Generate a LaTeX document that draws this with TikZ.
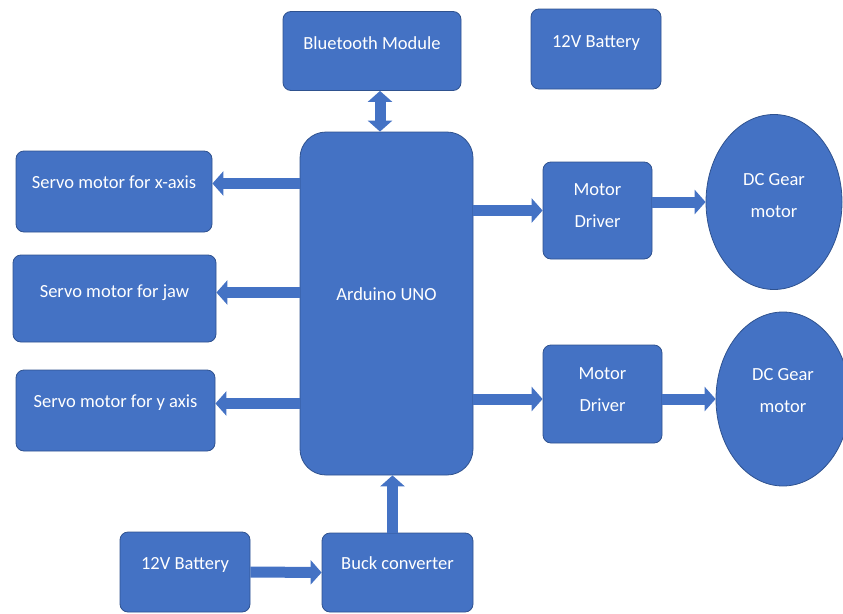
\documentclass[tikz,border=0pt]{standalone}
\usepackage{fontspec}
\setmainfont{Carlito}
\usetikzlibrary{arrows.meta,shapes.geometric}
\definecolor{officeblue}{HTML}{4472C4}
\definecolor{edgeblue}{HTML}{2F528F}

\tikzset{
  blok/.style={draw=edgeblue, line width=0.8pt, fill=officeblue, rounded corners=8pt,
    text=white, font=\fontsize{18.5}{32}\selectfont, align=center, inner sep=2pt},
  motorcirc/.style={ellipse, draw=edgeblue, line width=0.8pt, fill=officeblue,
    text=white, font=\fontsize{18.5}{32}\selectfont, align=center,
    minimum width=136pt, minimum height=175pt},
  fatarrow/.style={draw=officeblue, line width=11pt,
    -{Triangle[width=24pt,length=11pt]}},
  fatboth/.style={draw=officeblue, line width=11pt,
    {Triangle[width=24pt,length=11pt]}-{Triangle[width=24pt,length=11pt]}}
}

\begin{document}
\begin{tikzpicture}[x=1pt,y=-1pt]
  \useasboundingbox (0,0) rectangle (843,613);

  % Bausteine
  \node[blok, minimum width=178pt, minimum height=79pt, text depth=16pt] (bt) at (372,51) {Bluetooth Module};
  \node[blok, minimum width=130pt, minimum height=80pt, text depth=16pt] (batA) at (596,49) {12V Battery};
  \node[blok, rounded corners=26pt, minimum width=173pt, minimum height=343pt, text depth=19pt] (ard) at (386.5,303.5) {Arduino UNO};

  \node[blok, minimum width=196pt, minimum height=81pt, text depth=18pt] (sx) at (114,191.5) {Servo motor for x-axis};
  \node[blok, minimum width=203pt, minimum height=87pt, text depth=14pt] (sj) at (114.5,298.5) {Servo motor for jaw};
  \node[blok, minimum width=199pt, minimum height=81pt, text depth=18pt] (sy) at (115.5,410.5) {Servo motor for y axis};

  \node[blok, minimum width=109pt, minimum height=97pt, text depth=10pt] (mdA) at (597.5,210.5) {Motor\\Driver};
  \node[blok, minimum width=119pt, minimum height=98pt, text depth=8pt] (mdB) at (602.5,394) {Motor\\Driver};

  \node[motorcirc, text depth=14pt] (dcA) at (774,202) {DC Gear\\motor};
  \node[motorcirc, minimum width=134pt, minimum height=174pt, text depth=18pt] (dcB) at (783,399) {DC Gear\\motor};

  \node[blok, minimum width=130pt, minimum height=80pt, text depth=18pt] (batB) at (185,572) {12V Battery};
  \node[blok, minimum width=151pt, minimum height=79pt, text depth=18pt] (buck) at (397.5,572.5) {Buck converter};

  % Verbindungen
  \draw[fatboth] ([xshift=8pt]bt.south) -- ([xshift=8pt]bt.south |- ard.north);
  \draw[fatarrow] ([yshift=8pt]ard.west |- sx.east) -- ([yshift=8pt]sx.east);
  \draw[fatarrow] ([yshift=6pt]ard.west |- sj.east) -- ([yshift=6pt]sj.east);
  \draw[fatarrow] ([yshift=7pt]ard.west |- sy.east) -- ([yshift=7pt]sy.east);
  \draw[fatarrow] (ard.east |- mdA.west) -- (mdA.west);
  \draw[fatarrow] (mdA.east |- dcA.west) -- (dcA.west);
  \draw[fatarrow] (ard.east |- dcB.west) -- (mdB.west |- dcB.west);
  \draw[fatarrow] (mdB.east |- dcB.west) -- (dcB.west);
  \draw[fatarrow] (batB.east) -- (buck.west);
  \draw[fatarrow] ([xshift=-5pt]buck.north) -- ([xshift=-5pt]buck.north |- ard.south);
\end{tikzpicture}
\end{document}
